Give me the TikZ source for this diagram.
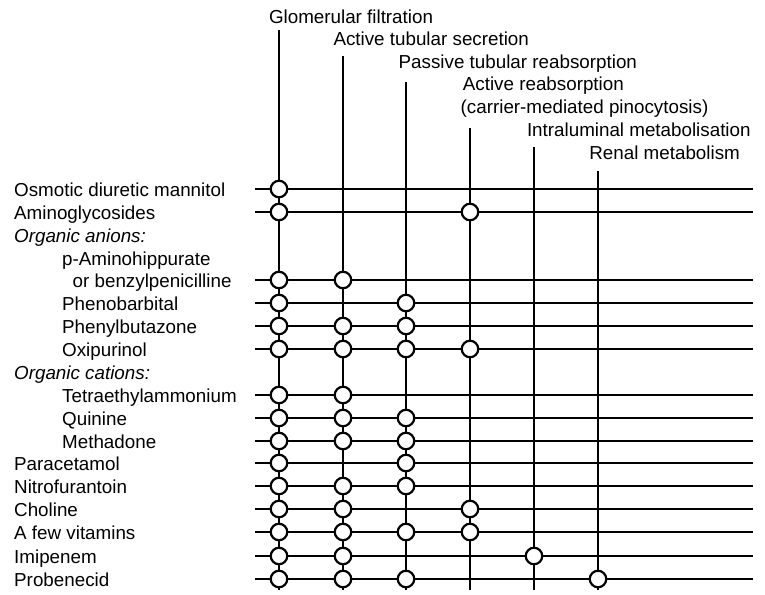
\documentclass[tikz,border=0pt]{standalone}
\usepackage{fontspec}
\setmainfont{Liberation Sans}
\tikzstyle{heading} = [anchor=base west, inner sep=0pt, font=\fontsize{18.8}{22}\selectfont]
\tikzstyle{drug} = [anchor=base west, inner sep=0pt, font=\fontsize{18.8}{22}\selectfont]
\tikzstyle{group} = [anchor=base west, inner sep=0pt, font=\fontsize{18.8}{22}\selectfont\itshape]
\tikzstyle{gridline} = [line width=2pt]
\tikzstyle{hit} = [circle, draw=black, fill=white, line width=2.2pt, minimum size=16.5pt, inner sep=0pt]

\begin{document}
\begin{tikzpicture}[x=1pt, y=-1pt]
        \useasboundingbox (0,0) rectangle (765,594);

        % pathways along the top
        \node (gftext) [heading] at (268.8,23.3) {Glomerular filtration};
        \node (atstext) [heading] at (333.3,45.7) {Active tubular secretion};
        \node (ptrtext) [heading] at (398.5,68) {Passive tubular reabsorption};
        \node (artext) [heading] at (462.7,90.5) {Active reabsorption};
        \node (artext2) [heading] at (460.5,113) {(carrier-mediated pinocytosis)};
        \node (imtext) [heading] at (526.8,136) {Intraluminal metabolisation};
        \node (rmtext) [heading] at (589.2,159.3) {Renal metabolism};

        \coordinate (gftop) at (279,30);   \coordinate (gfbot) at (279,590);
        \coordinate (atstop) at (343,56);  \coordinate (atsbot) at (343,590);
        \coordinate (ptrtop) at (406,82);  \coordinate (ptrbot) at (406,590);
        \coordinate (artop) at (470,128);  \coordinate (arbot) at (470,590);
        \coordinate (imtop) at (534,147);  \coordinate (imbot) at (534,590);
        \coordinate (rmtop) at (598,171);  \coordinate (rmbot) at (598,590);

        % substances on the left
        \node (mannitol) [drug] at (14,196.5) {Osmotic diuretic mannitol};
        \node (aminoglyc) [drug] at (14,219.5) {Aminoglycosides};
        \node (anions) [group] at (14,242.3) {Organic anions:};
        \node (pah) [drug] at (62,265.2) {p-Aminohippurate};
        \node (benzyl) [drug] at (72.5,287.5) {or benzylpenicilline};
        \node (phenobarb) [drug] at (62,310.5) {Phenobarbital};
        \node (phenylbut) [drug] at (62,333.5) {Phenylbutazone};
        \node (oxipur) [drug] at (62,356.5) {Oxipurinol};
        \node (cations) [group] at (14,379.7) {Organic cations:};
        \node (tea) [drug] at (62,402.5) {Tetraethylammonium};
        \node (quinine) [drug] at (62,425.5) {Quinine};
        \node (methadone) [drug] at (62,448.5) {Methadone};
        \node (paracet) [drug] at (14,470.5) {Paracetamol};
        \node (nitrofur) [drug] at (14,493.5) {Nitrofurantoin};
        \node (choline) [drug] at (14,516.5) {Choline};
        \node (vitamins) [drug] at (14,539.5) {A few vitamins};
        \node (imipenem) [drug] at (14,563.5) {Imipenem};
        \node (probenecid) [drug] at (14,586.5) {Probenecid};

        \coordinate (mannitolL) at (255,189);   \coordinate (mannitolR) at (753,189);
        \coordinate (aminoglycL) at (255,212);  \coordinate (aminoglycR) at (753,212);
        \coordinate (benzylL) at (255,280);     \coordinate (benzylR) at (753,280);
        \coordinate (phenobarbL) at (255,303);  \coordinate (phenobarbR) at (753,303);
        \coordinate (phenylbutL) at (255,326);  \coordinate (phenylbutR) at (753,326);
        \coordinate (oxipurL) at (255,349);     \coordinate (oxipurR) at (753,349);
        \coordinate (teaL) at (255,395);        \coordinate (teaR) at (753,395);
        \coordinate (quinineL) at (255,418);    \coordinate (quinineR) at (753,418);
        \coordinate (methadoneL) at (255,441);  \coordinate (methadoneR) at (753,441);
        \coordinate (paracetL) at (255,463);    \coordinate (paracetR) at (753,463);
        \coordinate (nitrofurL) at (255,486);   \coordinate (nitrofurR) at (753,486);
        \coordinate (cholineL) at (255,509);    \coordinate (cholineR) at (753,509);
        \coordinate (vitaminsL) at (255,532);   \coordinate (vitaminsR) at (753,532);
        \coordinate (imipenemL) at (255,556);   \coordinate (imipenemR) at (753,556);
        \coordinate (probenecidL) at (255,579); \coordinate (probenecidR) at (753,579);

        \draw [gridline] (gftop) -- (gfbot);
        \draw [gridline] (atstop) -- (atsbot);
        \draw [gridline] (ptrtop) -- (ptrbot);
        \draw [gridline] (artop) -- (arbot);
        \draw [gridline] (imtop) -- (imbot);
        \draw [gridline] (rmtop) -- (rmbot);

        \draw [gridline] (mannitolL) -- (mannitolR);
        \draw [gridline] (aminoglycL) -- (aminoglycR);
        \draw [gridline] (benzylL) -- (benzylR);
        \draw [gridline] (phenobarbL) -- (phenobarbR);
        \draw [gridline] (phenylbutL) -- (phenylbutR);
        \draw [gridline] (oxipurL) -- (oxipurR);
        \draw [gridline] (teaL) -- (teaR);
        \draw [gridline] (quinineL) -- (quinineR);
        \draw [gridline] (methadoneL) -- (methadoneR);
        \draw [gridline] (paracetL) -- (paracetR);
        \draw [gridline] (nitrofurL) -- (nitrofurR);
        \draw [gridline] (cholineL) -- (cholineR);
        \draw [gridline] (vitaminsL) -- (vitaminsR);
        \draw [gridline] (imipenemL) -- (imipenemR);
        \draw [gridline] (probenecidL) -- (probenecidR);

        % where a substance takes a pathway
        \node (mannitol-gf) [hit] at (gftop |- mannitolL) {};
        \node (aminoglyc-gf) [hit] at (gftop |- aminoglycL) {};
        \node (aminoglyc-ar) [hit] at (artop |- aminoglycL) {};
        \node (benzyl-gf) [hit] at (gftop |- benzylL) {};
        \node (benzyl-ats) [hit] at (atstop |- benzylL) {};
        \node (phenobarb-gf) [hit] at (gftop |- phenobarbL) {};
        \node (phenobarb-ptr) [hit] at (ptrtop |- phenobarbL) {};
        \node (phenylbut-gf) [hit] at (gftop |- phenylbutL) {};
        \node (phenylbut-ats) [hit] at (atstop |- phenylbutL) {};
        \node (phenylbut-ptr) [hit] at (ptrtop |- phenylbutL) {};
        \node (oxipur-gf) [hit] at (gftop |- oxipurL) {};
        \node (oxipur-ats) [hit] at (atstop |- oxipurL) {};
        \node (oxipur-ptr) [hit] at (ptrtop |- oxipurL) {};
        \node (oxipur-ar) [hit] at (artop |- oxipurL) {};
        \node (tea-gf) [hit] at (gftop |- teaL) {};
        \node (tea-ats) [hit] at (atstop |- teaL) {};
        \node (quinine-gf) [hit] at (gftop |- quinineL) {};
        \node (quinine-ats) [hit] at (atstop |- quinineL) {};
        \node (quinine-ptr) [hit] at (ptrtop |- quinineL) {};
        \node (methadone-gf) [hit] at (gftop |- methadoneL) {};
        \node (methadone-ats) [hit] at (atstop |- methadoneL) {};
        \node (methadone-ptr) [hit] at (ptrtop |- methadoneL) {};
        \node (paracet-gf) [hit] at (gftop |- paracetL) {};
        \node (paracet-ptr) [hit] at (ptrtop |- paracetL) {};
        \node (nitrofur-gf) [hit] at (gftop |- nitrofurL) {};
        \node (nitrofur-ats) [hit] at (atstop |- nitrofurL) {};
        \node (nitrofur-ptr) [hit] at (ptrtop |- nitrofurL) {};
        \node (choline-gf) [hit] at (gftop |- cholineL) {};
        \node (choline-ats) [hit] at (atstop |- cholineL) {};
        \node (choline-ar) [hit] at (artop |- cholineL) {};
        \node (vitamins-gf) [hit] at (gftop |- vitaminsL) {};
        \node (vitamins-ats) [hit] at (atstop |- vitaminsL) {};
        \node (vitamins-ptr) [hit] at (ptrtop |- vitaminsL) {};
        \node (vitamins-ar) [hit] at (artop |- vitaminsL) {};
        \node (imipenem-gf) [hit] at (gftop |- imipenemL) {};
        \node (imipenem-ats) [hit] at (atstop |- imipenemL) {};
        \node (imipenem-im) [hit] at (imtop |- imipenemL) {};
        \node (probenecid-gf) [hit] at (gftop |- probenecidL) {};
        \node (probenecid-ats) [hit] at (atstop |- probenecidL) {};
        \node (probenecid-ptr) [hit] at (ptrtop |- probenecidL) {};
        \node (probenecid-rm) [hit] at (rmtop |- probenecidL) {};
    \end{tikzpicture}
\end{document}
